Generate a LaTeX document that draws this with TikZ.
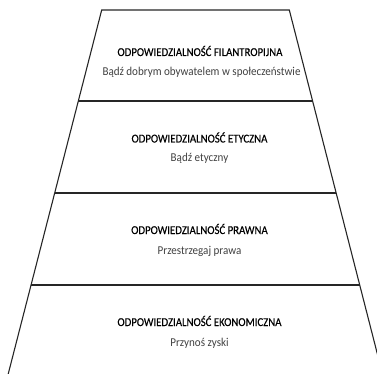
\documentclass[tikz,border=0pt]{standalone}
\usepackage{fontspec}
\setmainfont{Carlito}
\newfontfamily\titlefont[FakeStretch=0.9,FakeBold=0.4]{Carlito}
\newfontfamily\subfont[FakeStretch=0.92]{Carlito}
\begin{document}
\begin{tikzpicture}[x=1pt,y=-1pt,
  edge/.style={line width=1.1pt, draw=black!85},
  title/.style={font=\titlefont\fontsize{12}{14}\selectfont, text=black, inner sep=0pt, anchor=base},
  sub/.style={font=\subfont\fontsize{12}{14}\selectfont, text=black!75, inner sep=0pt, anchor=base}]
\useasboundingbox (0,0) rectangle (377,374);
\clip (0,0) rectangle (377,374);
\coordinate (TL) at (101.7,10);
\coordinate (TR) at (289.3,10);
\coordinate (BL) at (8.2,374);
\coordinate (BR) at (382.5,374);
\coordinate (L1) at (78.3,101);
\coordinate (R1) at (312.6,101);
\coordinate (L2) at (54.7,193);
\coordinate (R2) at (336.1,193);
\coordinate (L3) at (31.0,285);
\coordinate (R3) at (359.7,285);
\draw[edge] (BL) -- (TL) -- (TR) -- (BR);
\draw[edge] (L1) -- (R1);
\draw[edge] (L2) -- (R2);
\draw[edge] (L3) -- (R3);
\node[title] (t1) at (200,56) {ODPOWIEDZIALNOŚĆ FILANTROPIJNA};
\node[sub] (s1) at (201.5,76) {Bądź dobrym obywatelem w społeczeństwie};
\node[title] (t2) at (199.5,142.5) {ODPOWIEDZIALNOŚĆ ETYCZNA};
\node[sub] (s2) at (199.5,162) {Bądź etyczny};
\node[title] (t3) at (199.5,234) {ODPOWIEDZIALNOŚĆ PRAWNA};
\node[sub] (s3) at (199.5,254.5) {Przestrzegaj prawa};
\node[title] (t4) at (199.5,326) {ODPOWIEDZIALNOŚĆ EKONOMICZNA};
\node[sub] (s4) at (199.5,346) {Przynoś zyski};
\end{tikzpicture}
\end{document}
